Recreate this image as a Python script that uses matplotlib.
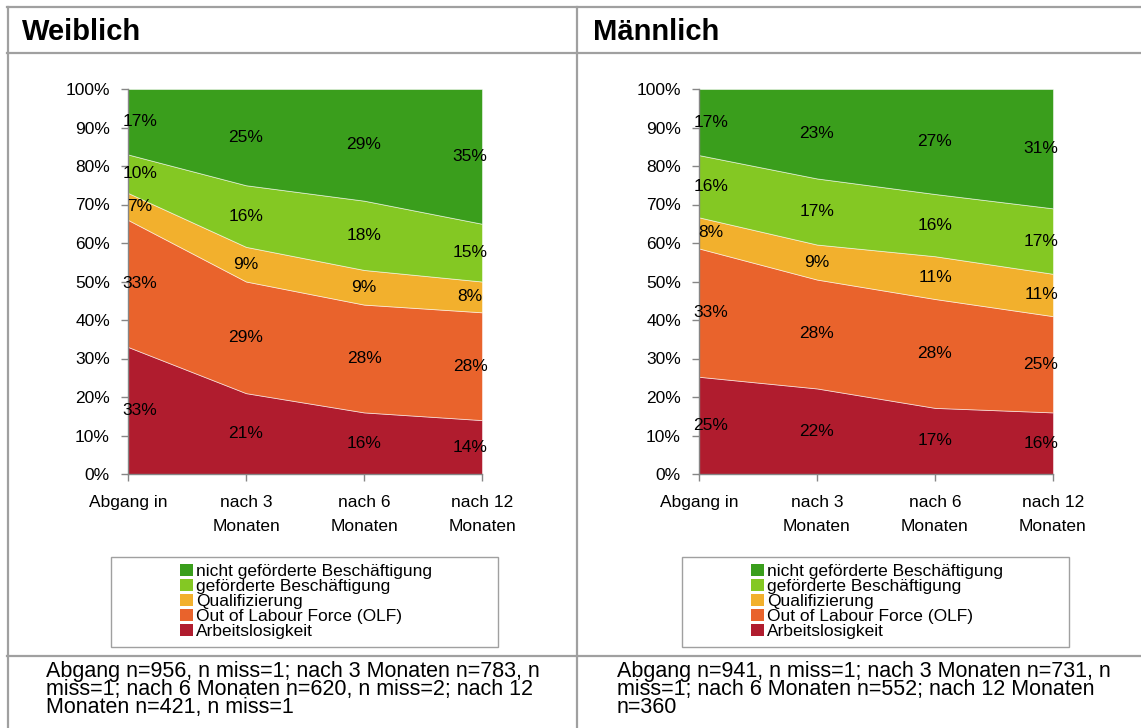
import matplotlib
matplotlib.use("Agg")
import matplotlib.pyplot as plt
from matplotlib.patches import Patch, Rectangle
from matplotlib.lines import Line2D
import numpy as np

plt.rcParams['font.family'] = ['Liberation Sans', 'DejaVu Sans']

# ---------------- data ----------------
categories = ["Abgang in", "nach 3\nMonaten", "nach 6\nMonaten", "nach 12\nMonaten"]
series_names = ["Arbeitslosigkeit", "Out of Labour Force (OLF)", "Qualifizierung",
                "geförderte Beschäftigung", "nicht geförderte Beschäftigung"]
colors = ["#B01C2E", "#E9632C", "#F2B02D", "#84C823", "#3A9E1C"]

weiblich_arbeitslos = [33, 21, 16, 14]
weiblich_olf = [33, 29, 28, 28]
weiblich_quali = [7, 9, 9, 8]
weiblich_gefoerdert = [10, 16, 18, 15]
weiblich_nicht_gefoerdert = [17, 25, 29, 35]

maennlich_arbeitslos = [25, 22, 17, 16]
maennlich_olf = [33, 28, 28, 25]
maennlich_quali = [8, 9, 11, 11]
maennlich_gefoerdert = [16, 17, 16, 17]
maennlich_nicht_gefoerdert = [17, 23, 27, 31]

titles = ["Weiblich", "Männlich"]
footers = [
    "Abgang n=956, n miss=1; nach 3 Monaten n=783, n\nmiss=1; nach 6 Monaten n=620, n miss=2; nach 12\nMonaten n=421, n miss=1",
    "Abgang n=941, n miss=1; nach 3 Monaten n=731, n\nmiss=1; nach 6 Monaten n=552; nach 12 Monaten\nn=360",
]
yticklabels = ["0%", "10%", "20%", "30%", "40%", "50%", "60%", "70%", "80%", "90%", "100%"]

panels = [
    [weiblich_arbeitslos, weiblich_olf, weiblich_quali, weiblich_gefoerdert, weiblich_nicht_gefoerdert],
    [maennlich_arbeitslos, maennlich_olf, maennlich_quali, maennlich_gefoerdert, maennlich_nicht_gefoerdert],
]

# ---------------- figure ----------------
W, H = 1141, 728
fig = plt.figure(figsize=(W / 100, H / 100), dpi=100)

def fx(px):
    return px / W

def fy(py):
    return 1 - py / H

grey = "#A0A0A0"
# table grid lines
for y in (7, 52.5, 656):
    fig.add_artist(Line2D([fx(7), 1], [fy(y), fy(y)], color=grey, lw=1.6))
for x in (7.5, 577):
    fig.add_artist(Line2D([fx(x), fx(x)], [fy(7), 0], color=grey, lw=1.6))

shift = 571
axis_grey = "#868686"
for p, data in enumerate(panels):
    off = p * shift
    # title
    fig.text(fx(22 + off), fy(32), titles[p], fontsize=21, fontweight="bold",
             ha="left", va="center")
    # axes
    ax = fig.add_axes([fx(128 + off), fy(474), fx(482 - 128), (474 - 89) / H])
    arr = np.array(data, dtype=float)
    norm = arr / arr.sum(axis=0)
    x = np.arange(len(categories))
    ax.stackplot(x, norm, colors=colors, edgecolor=(1, 1, 1, 0.6), linewidth=0.6)
    ax.set_xlim(0, 3)
    ax.set_ylim(0, 1)
    ax.set_yticks(np.linspace(0, 1, 11))
    ax.set_yticklabels(yticklabels, fontsize=12.5)
    ax.set_xticks(x)
    ax.set_xticklabels(categories, fontsize=12.5, linespacing=1.75)
    for s in ("top", "right"):
        ax.spines[s].set_visible(False)
    for s in ("left", "bottom"):
        ax.spines[s].set_color(axis_grey)
        ax.spines[s].set_linewidth(1)
        ax.spines[s].set_zorder(5)
    ax.tick_params(axis="both", color=axis_grey, length=5, width=1, direction="out")
    ax.tick_params(axis="y", pad=8)
    ax.tick_params(axis="x", pad=10)
    # data labels
    cum = np.cumsum(norm, axis=0)
    for i in range(norm.shape[0]):
        for j in range(norm.shape[1]):
            mid = cum[i, j] - norm[i, j] / 2
            dx = 12 if j == 0 else (-12 if j == len(x) - 1 else 0)
            ax.annotate(f"{int(arr[i, j])}%", (x[j], mid), xytext=(dx * 0.72, 0),
                        textcoords="offset points", ha="center", va="center",
                        fontsize=12.5, color="black", zorder=6, annotation_clip=False)
    # legend box
    fig.add_artist(Rectangle((fx(111 + off), fy(647)), fx(498 - 111), (647 - 557) / H,
                             fill=False, edgecolor="#A0A0A0", lw=1.0))
    handles = [Patch(facecolor=colors[k], edgecolor="none", label=series_names[k])
               for k in range(len(series_names) - 1, -1, -1)]
    fig.legend(handles=handles, loc="upper left",
               bbox_to_anchor=(fx(180 + off), fy(563.5)), frameon=False,
               fontsize=12.5, handlelength=0.75, handleheight=0.75,
               handletextpad=0.18, labelspacing=-0.02, borderpad=0,
               borderaxespad=0)
    # footer
    fig.text(fx(46 + off), fy(661), footers[p], fontsize=15.5, ha="left", va="top",
             linespacing=0.81)

fig.savefig("out.png", dpi=100)
